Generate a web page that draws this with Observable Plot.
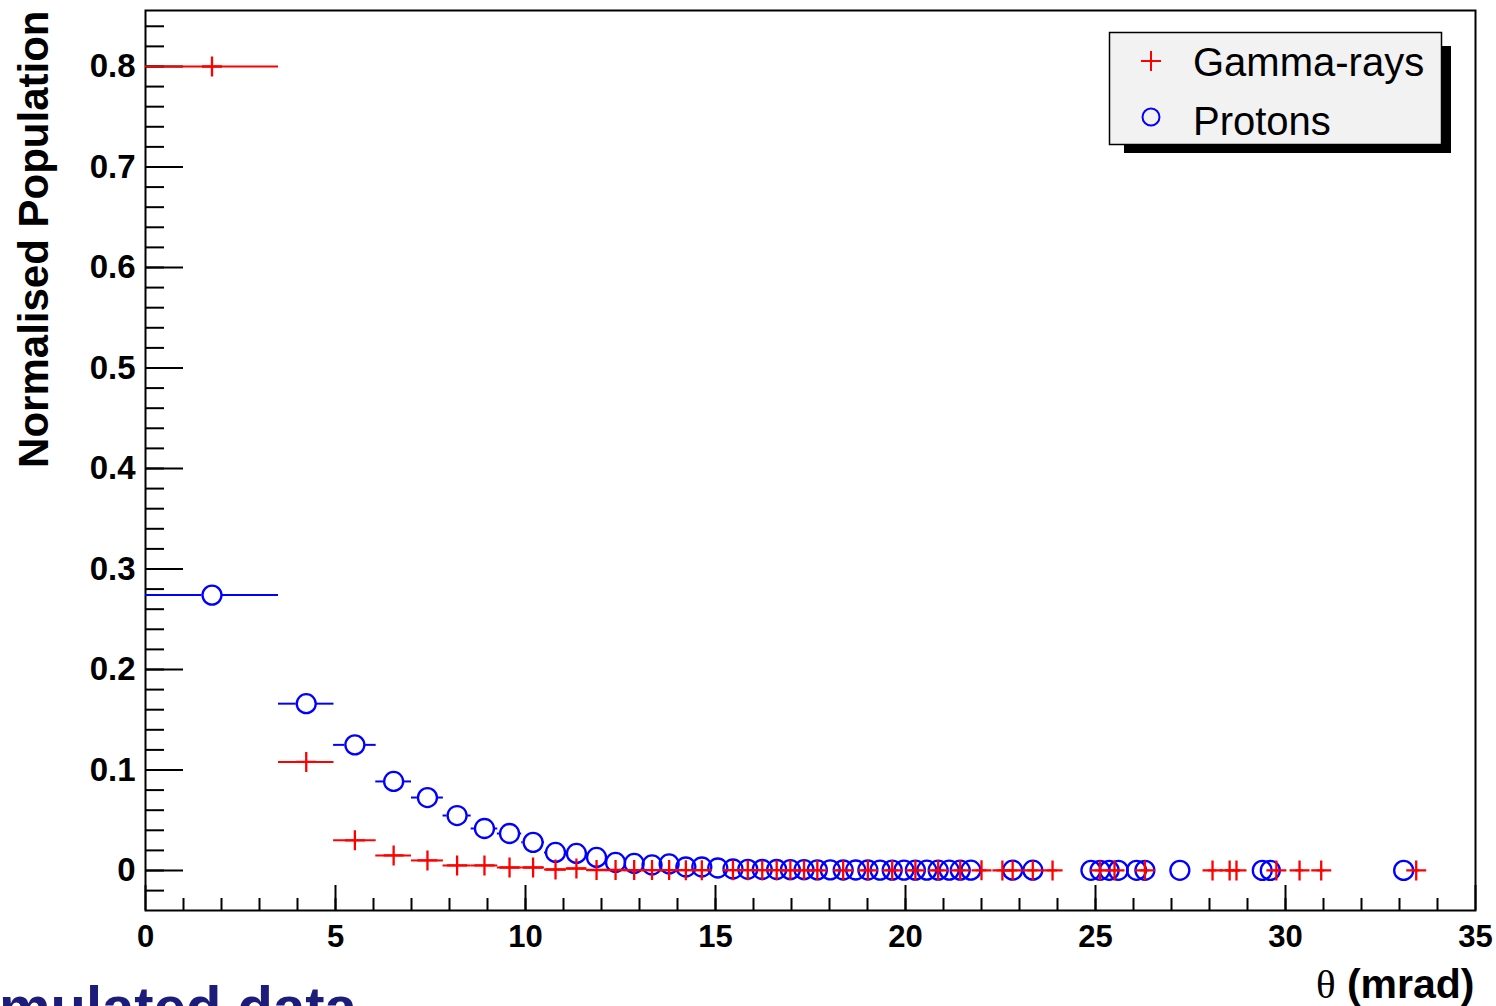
<!DOCTYPE html>
<html>
<head>
<meta charset="utf-8">
<script src="https://cdn.jsdelivr.net/npm/d3@7"></script>
<script src="https://cdn.jsdelivr.net/npm/@observablehq/plot@0.6"></script>
<style>
html, body { margin: 0; padding: 0; background: #fff; overflow: hidden; }
#wrap { position: relative; width: 1496px; height: 1006px; }
</style>
</head>
<body>
<div id="wrap"></div>
<script>
// ---------- data ----------
const protonX = [1.75, 4.23, 5.51, 6.53, 7.42, 8.20, 8.92, 9.58, 10.20, 10.79, 11.34, 11.87, 12.37, 12.86, 13.33, 13.78, 14.22, 14.64, 15.06, 15.46, 15.85, 16.23, 16.61, 16.97, 17.33, 17.68, 18.02, 18.36, 18.69, 19.01, 19.33, 19.65, 19.96, 20.26, 20.56, 20.86, 21.15, 21.44, 21.72, 22.82, 23.35, 24.88, 25.12, 25.36, 25.60, 26.08, 26.30, 27.22, 29.39, 29.60, 33.11];
const protonXerr = [1.75, 0.73, 0.56, 0.47, 0.42, 0.37, 0.35, 0.32, 0.30, 0.29, 0.27, 0.26, 0.25, 0.24, 0.23, 0.22, 0.22, 0.21, 0.21, 0.20, 0.20, 0.19, 0.19, 0.18, 0.18, 0.17, 0.17, 0.17, 0.16, 0.16, 0.16, 0.16, 0.15, 0.15, 0.15, 0.15, 0.14, 0.14, 0.14, 0.13, 0.13, 0.12, 0.12, 0.12, 0.12, 0.12, 0.12, 0.11, 0.10, 0.10, 0.09];
const protonY = [0.274, 0.166, 0.125, 0.0886, 0.0726, 0.0547, 0.0418, 0.0368, 0.028, 0.018, 0.017, 0.013, 0.008, 0.007, 0.0055, 0.0065, 0.0035, 0.0035, 0.0025, 0.0015, 0.0012, 0.001, 0.001, 0.0008, 0.0008, 0.0006, 0.0006, 0.0005, 0.0005, 0.0005, 0.0004, 0.0004, 0.0004, 0.0004, 0.0003, 0.0003, 0.0003, 0.0003, 0.0003, 0.0003, 0.0003, 0.0002, 0.0002, 0.0002, 0.0002, 0.0002, 0.0002, 0.0002, 0.0001, 0.0001, 0.0001];

const gammaX = [1.75, 4.23, 5.51, 6.53, 7.42, 8.20, 8.92, 9.58, 10.20, 10.79, 11.34, 11.87, 12.37, 12.86, 13.33, 13.78, 14.22, 14.64, 15.46, 15.85, 16.23, 16.61, 16.97, 17.33, 17.68, 18.36, 19.01, 19.65, 20.26, 20.86, 21.44, 22.00, 22.55, 22.82, 23.35, 23.87, 25.12, 25.50, 26.30, 28.08, 28.53, 28.71, 29.76, 30.37, 30.94, 33.44];
const gammaXerr = [1.75, 0.73, 0.56, 0.47, 0.42, 0.37, 0.35, 0.32, 0.30, 0.29, 0.27, 0.26, 0.25, 0.24, 0.23, 0.22, 0.22, 0.21, 0.20, 0.19, 0.19, 0.18, 0.18, 0.18, 0.17, 0.17, 0.16, 0.16, 0.15, 0.15, 0.14, 0.14, 0.14, 0.13, 0.13, 0.13, 0.12, 0.12, 0.12, 0.11, 0.11, 0.11, 0.10, 0.10, 0.10, 0.09];
const gammaY = [0.80, 0.108, 0.030, 0.015, 0.010, 0.005, 0.005, 0.003, 0.003, 0.001, 0.002, 0.0005, 0.0005, 0.0004, 0.0004, 0.0004, 0.0003, 0.0003, 0.0003, 0.0003, 0.0003, 0.0003, 0.0002, 0.0002, 0.0002, 0.0002, 0.0002, 0.0002, 0.0002, 0.0002, 0.0002, 0.0002, 0.0001, 0.0001, 0.0001, 0.0001, 0.0001, 0.0001, 0.0001, 0.0001, 0.0001, 0.0001, 0.0001, 0.0001, 0.0001, 0.0001];

const xMajor = [0, 5, 10, 15, 20, 25, 30, 35];
const xMinor = d3.range(1, 35, 1);
const yMajor = [0, 0.1, 0.2, 0.3, 0.4, 0.5, 0.6, 0.7, 0.8];
const yMinor = d3.range(-0.02, 0.85, 0.02);

const seriesNames = ["Gamma-rays", "Protons"];
const xTitle = "θ (mrad)";
const yTitle = "Normalised Population";
const caption = "mulated data";

// ---------- layout ----------
const W = 1496, H = 1006;
const ML = 145, MR = 21, MT = 10, MB = 96;
const frameW = W - ML - MR, frameH = H - MT - MB;
const pxPerUnit = frameW / 35;
const R = 9.5;               // circle marker radius
const gap = (R + 0.5) / pxPerUnit;
const FONT = "'Liberation Sans', Arial, Helvetica, sans-serif";
const RED = "#ff0000", BLUE = "#0000ff";

const gamma = gammaX.map((x, i) => ({x, y: gammaY[i], lo: x - gammaXerr[i], hi: x + gammaXerr[i]}));
const proton = protonX.map((x, i) => ({x, y: protonY[i], lo: x - protonXerr[i], hi: x + protonXerr[i]}));
const protonBars = [];
for (const p of proton) {
  if (p.lo < p.x - gap) protonBars.push({y: p.y, a: p.lo, b: p.x - gap});
  if (p.hi > p.x + gap) protonBars.push({y: p.y, a: p.x + gap, b: p.hi});
}

const plusSymbol = {
  draw(ctx) { const l = 10; ctx.moveTo(-l, 0); ctx.lineTo(l, 0); ctx.moveTo(0, -l); ctx.lineTo(0, l); }
};

const chart = Plot.plot({
  width: W, height: H,
  marginLeft: ML, marginRight: MR, marginTop: MT, marginBottom: MB,
  x: {domain: [0, 35]},
  y: {domain: [-0.0398, 0.8557]},
  style: {fontFamily: FONT, color: "black", background: "white", overflow: "hidden"},
  marks: [
    Plot.tickY(yMinor, {y: d => d, insetRight: frameW - 19, stroke: "black", strokeWidth: 2}),
    Plot.tickY(yMajor, {y: d => d, insetRight: frameW - 38, stroke: "black", strokeWidth: 2}),
    Plot.tickX(xMinor, {x: d => d, insetTop: frameH - 12, stroke: "black", strokeWidth: 2}),
    Plot.tickX(xMajor, {x: d => d, insetTop: frameH - 25, stroke: "black", strokeWidth: 2}),
    Plot.axisY({ticks: yMajor, tickSize: 0, tickPadding: 10, label: null, fontSize: 33, fontWeight: "bold",
      tickFormat: d => d === 0 ? "0" : d.toFixed(1)}),
    Plot.axisX({ticks: xMajor, tickSize: 0, tickPadding: 14, label: null, fontSize: 31, fontWeight: "bold",
      tickFormat: d => String(d)}),
    Plot.frame({stroke: "black", strokeWidth: 2}),
    // protons
    Plot.ruleY(protonBars, {y: "y", x1: "a", x2: "b", stroke: BLUE, strokeWidth: 2}),
    Plot.dot(proton, {x: "x", y: "y", r: R, stroke: BLUE, strokeWidth: 2.3, fill: "none"}),
    // gamma-rays
    Plot.ruleY(gamma, {y: "y", x1: "lo", x2: "hi", stroke: RED, strokeWidth: 2}),
    Plot.dot(gamma, {x: "x", y: "y", symbol: plusSymbol, stroke: RED, strokeWidth: 2.3, fill: "none"}),
    // axis titles
    Plot.text([yTitle], {frameAnchor: "top-left", rotate: -90, textAnchor: "end", dx: -127, fontSize: 42, fontWeight: "bold", fill: "black"}),
    Plot.text([xTitle], {frameAnchor: "bottom-right", textAnchor: "end", lineAnchor: "bottom", dx: -1, dy: 87, fontSize: 41, fontWeight: "bold", fill: "black"})
  ]
});
document.getElementById("wrap").appendChild(chart);

const svg = d3.select(chart);
// theta in a serif, regular weight
svg.selectAll("text").filter(function() { return this.textContent === xTitle; }).each(function() {
  const t = d3.select(this);
  t.text(null);
  t.append("tspan").attr("font-family", "'Liberation Serif', 'DejaVu Serif', serif").attr("font-weight", "normal").text("θ");
  t.append("tspan").text(" (mrad)");
});

// legend (ROOT style box with shadow)
const lg = svg.append("g").attr("text-anchor", "start");
lg.append("rect").attr("x", 1442).attr("y", 46).attr("width", 9).attr("height", 107).attr("fill", "black");
lg.append("rect").attr("x", 1124).attr("y", 144).attr("width", 327).attr("height", 9).attr("fill", "black");
lg.append("rect").attr("x", 1109.5).attr("y", 32.5).attr("width", 332).attr("height", 112)
  .attr("fill", "#f2f2f2").attr("stroke", "black").attr("stroke-width", 1.5);
lg.append("path").attr("d", "M1141,61H1161M1151,51V71").attr("stroke", RED).attr("stroke-width", 2).attr("fill", "none");
lg.append("circle").attr("cx", 1151).attr("cy", 117).attr("r", 8.5).attr("stroke", BLUE).attr("stroke-width", 2).attr("fill", "none");
lg.append("text").attr("x", 1193).attr("y", 76).attr("font-size", 40).attr("font-family", FONT).attr("fill", "black").text(seriesNames[0]);
lg.append("text").attr("x", 1193).attr("y", 135).attr("font-size", 40).attr("font-family", FONT).attr("fill", "black").text(seriesNames[1]);

// slide caption fragment at the bottom edge
svg.append("text").attr("text-anchor", "start").attr("x", -1).attr("y", 1027).attr("font-size", 58).attr("font-weight", "bold")
  .attr("font-family", FONT).attr("fill", "#1c1c7a").text(caption);
</script>
</body>
</html>
